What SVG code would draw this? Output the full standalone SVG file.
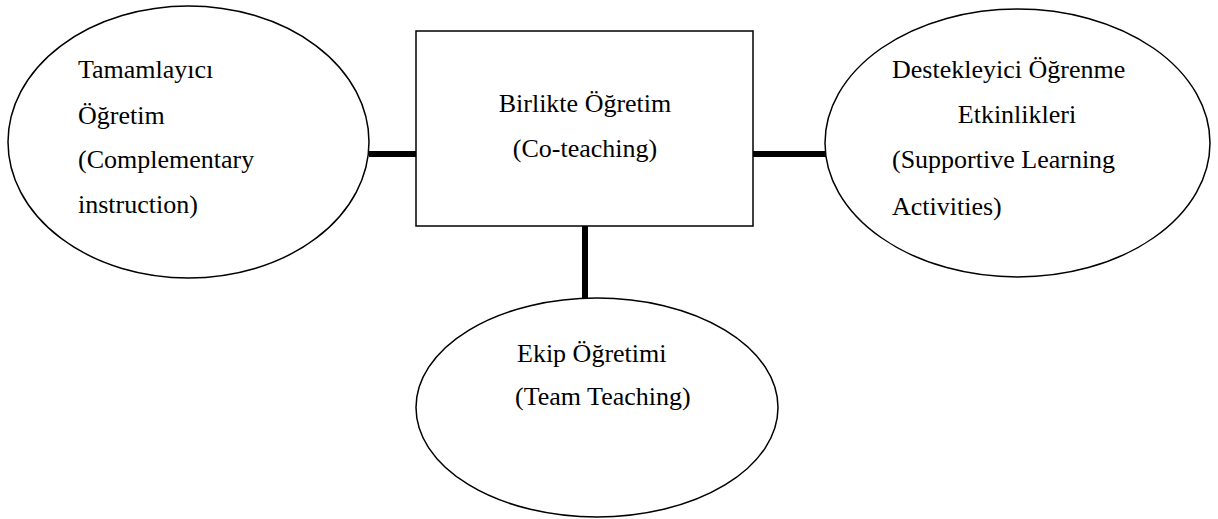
<svg xmlns="http://www.w3.org/2000/svg" width="1218" height="519" viewBox="0 0 1218 519">
<style>
.shape{fill:#fff;stroke:#000;stroke-width:1.5}
.conn{stroke:#000;stroke-width:6;fill:none}
text{font-family:"Liberation Serif","Times New Roman",serif;font-size:26px;fill:#000}
</style>
<rect width="1218" height="519" fill="#fff"/>
<g id="connectors">
<line class="conn" x1="369" y1="154" x2="417" y2="154"/>
<line class="conn" x1="753" y1="154" x2="826" y2="154"/>
<line class="conn" x1="585" y1="226" x2="585" y2="298"/>
</g>
<g id="node-left">
<ellipse class="shape" cx="188.5" cy="142" rx="180.5" ry="136"/>
<text x="78" y="78">Tamamlayıcı</text>
<text x="78" y="124">Öğretim</text>
<text x="78" y="168">(Complementary</text>
<text x="78" y="213">instruction)</text>
</g>
<g id="node-center">
<rect class="shape" x="416" y="31" width="337" height="195"/>
<text x="585" y="112" text-anchor="middle">Birlikte Öğretim</text>
<text x="585" y="157" text-anchor="middle">(Co-teaching)</text>
</g>
<g id="node-right">
<ellipse class="shape" cx="1017.5" cy="143" rx="192.5" ry="134"/>
<text x="892" y="78">Destekleyici Öğrenme</text>
<text x="1017" y="123" text-anchor="middle">Etkinlikleri</text>
<text x="892" y="168">(Supportive Learning</text>
<text x="892" y="215">Activities)</text>
</g>
<g id="node-bottom">
<ellipse class="shape" cx="597" cy="407.5" rx="181" ry="109.5"/>
<text x="517" y="362">Ekip Öğretimi</text>
<text x="515" y="405">(Team Teaching)</text>
</g>
</svg>
